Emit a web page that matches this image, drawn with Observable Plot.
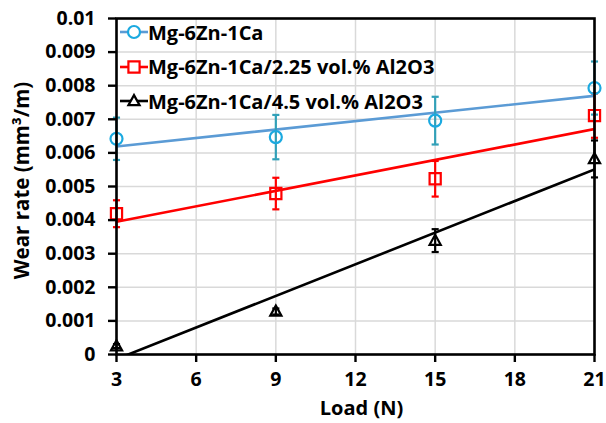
<!DOCTYPE html>
<html>
<head>
<meta charset="utf-8">
<script src="https://cdn.jsdelivr.net/npm/d3@7"></script>
<script src="https://cdn.jsdelivr.net/npm/@observablehq/plot@0.6"></script>
<style>
  html, body { margin: 0; padding: 0; background: #fff; }
  #wrap { position: relative; width: 606px; height: 423px; font-family: "Open Sans", sans-serif; }
  #legend { position: absolute; left: 120px; top: 15px; font-weight: bold; font-size: 20px; color: #000; }
  #legend .row { display: flex; align-items: center; height: 34.5px; white-space: nowrap; }
  #legend svg { display: block; }
</style>
</head>
<body>
<div id="wrap"><div id="legend"></div></div>
<script>
// ---- data ----
const loads = [3, 9, 15, 21];
const seriesNames = ["Mg-6Zn-1Ca", "Mg-6Zn-1Ca/2.25 vol.% Al2O3", "Mg-6Zn-1Ca/4.5 vol.% Al2O3"];
const wearBase = [0.00642, 0.00647, 0.00696, 0.00793];
const wearAl225 = [0.00419, 0.00479, 0.00523, 0.00711];
const wearAl45 = [0.00025, 0.00128, 0.00339, 0.00582];
const errBase = [0.00063, 0.00066, 0.00071, 0.00079];
const errAl225 = [0.00040, 0.00047, 0.00053, 0.00066];
const errAl45 = [0.00006, 0.00009, 0.00034, 0.00055];
const xTicks = [3, 6, 9, 12, 15, 18, 21];
const yTicks = [0, 0.001, 0.002, 0.003, 0.004, 0.005, 0.006, 0.007, 0.008, 0.009, 0.01];
const yTickLabels = ["0", "0.001", "0.002", "0.003", "0.004", "0.005", "0.006", "0.007", "0.008", "0.009", "0.01"];

const styles = [
  {line: "#5B9BD5", marker: "#1AA9E0", err: "#31A0B8", symbol: "circle"},
  {line: "#FF0000", marker: "#FF0000", err: "#FF0000", symbol: "square"},
  {line: "#000000", marker: "#000000", err: "#000000", symbol: "triangle"}
];

const values = [wearBase, wearAl225, wearAl45];
const errs = [errBase, errAl225, errAl45];
const rows = [];
values.forEach((vals, s) => vals.forEach((v, i) => rows.push({
  series: seriesNames[s], s, load: loads[i], wear: v, lo: v - errs[s][i], hi: v + errs[s][i]
})));

const capSymbol = {
  draw(ctx, size) {
    const w = Math.sqrt(size) / 2;
    ctx.moveTo(-w, 0); ctx.lineTo(w, 0);
  }
};
const triSymbol = {
  draw(ctx, size) {
    const r = Math.sqrt(size) / 2;
    ctx.moveTo(0, -r * 1.05);
    ctx.lineTo(r * 1.0, r * 0.75);
    ctx.lineTo(-r * 1.0, r * 0.75);
    ctx.closePath();
  }
};
const symFor = (name) => name === "triangle" ? triSymbol : name;

const marks = [
  Plot.gridX(xTicks, {stroke: "#d9d9d9", strokeOpacity: 1, strokeWidth: 1.5}),
  Plot.gridY(yTicks, {stroke: "#d9d9d9", strokeOpacity: 1, strokeWidth: 1.5}),
];
styles.forEach((st, s) => {
  const data = rows.filter(d => d.s === s);
  marks.push(Plot.linearRegressionY(data, {x: "load", y: "wear", stroke: st.line, strokeWidth: 2.6, ci: 0, clip: true}));
});
styles.forEach((st, s) => {
  const data = rows.filter(d => d.s === s);
  marks.push(Plot.ruleX(data, {x: "load", y1: "lo", y2: "hi", stroke: st.err, strokeWidth: 2.2}));
  marks.push(Plot.dot(data, {x: "load", y: "hi", symbol: capSymbol, r: 4, stroke: st.err, strokeWidth: 2.2}));
  marks.push(Plot.dot(data, {x: "load", y: "lo", symbol: capSymbol, r: 4, stroke: st.err, strokeWidth: 2.2}));
});
styles.forEach((st, s) => {
  const data = rows.filter(d => d.s === s);
  marks.push(Plot.dot(data, {x: "load", y: "wear", symbol: symFor(st.symbol), r: s === 0 ? 6 : 6.3, stroke: st.marker, strokeWidth: 2.2, fill: "none"}));
});
marks.push(Plot.frame({stroke: "#000", strokeWidth: 2.6}));
marks.push(Plot.axisX(xTicks, {tickSize: 8, tickPadding: 10, stroke: "#000", strokeWidth: 2.4, fontSize: 19.5, fontWeight: "bold", label: null}));
marks.push(Plot.axisY(yTicks, {tickSize: 8, tickPadding: 13, stroke: "#000", strokeWidth: 2.4, fontSize: 19.5, fontWeight: "bold", tickFormat: (d, i) => yTickLabels[i], label: null}));
marks.push(Plot.text(["Load (N)"], {frameAnchor: "bottom", dy: 60, dx: 6, fontSize: 20, fontWeight: "bold", fill: "#000"}));
marks.push(Plot.text(["Wear rate (mm³/m)"], {frameAnchor: "left", dx: -94, dy: -6, rotate: -90, textAnchor: "middle", fontSize: 20.5, fontWeight: "bold", fill: "#000"}));

const chart = Plot.plot({
  width: 606,
  height: 423,
  marginLeft: 116,
  marginRight: 12,
  marginTop: 18,
  marginBottom: 69,
  style: {fontFamily: "Open Sans, sans-serif", fontSize: "20px", color: "#000", background: "#fff", overflow: "visible"},
  x: {domain: [3, 21]},
  y: {domain: [0, 0.01]},
  marks
});
document.getElementById("wrap").prepend(chart);

// legend
const legend = document.getElementById("legend");
styles.forEach((st, s) => {
  const row = document.createElement("div");
  row.className = "row";
  const w = 28, h = 20;
  const svg = d3.create("svg").attr("width", w).attr("height", h);
  svg.append("line").attr("x1", 0).attr("x2", w).attr("y1", h / 2).attr("y2", h / 2)
    .attr("stroke", st.line).attr("stroke-width", 2.6);
  const sym = d3.symbol().type(st.symbol === "circle" ? d3.symbolCircle : st.symbol === "square" ? d3.symbolSquare : triSymbol).size(s === 0 ? 113 : 125);
  svg.append("path").attr("d", sym()).attr("transform", `translate(${w / 2},${h / 2})`)
    .attr("fill", "#fff").attr("stroke", st.marker).attr("stroke-width", 2.2);
  row.appendChild(svg.node());
  const span = document.createElement("span");
  span.textContent = seriesNames[s];
  row.appendChild(span);
  legend.appendChild(row);
});
</script>
</body>
</html>
